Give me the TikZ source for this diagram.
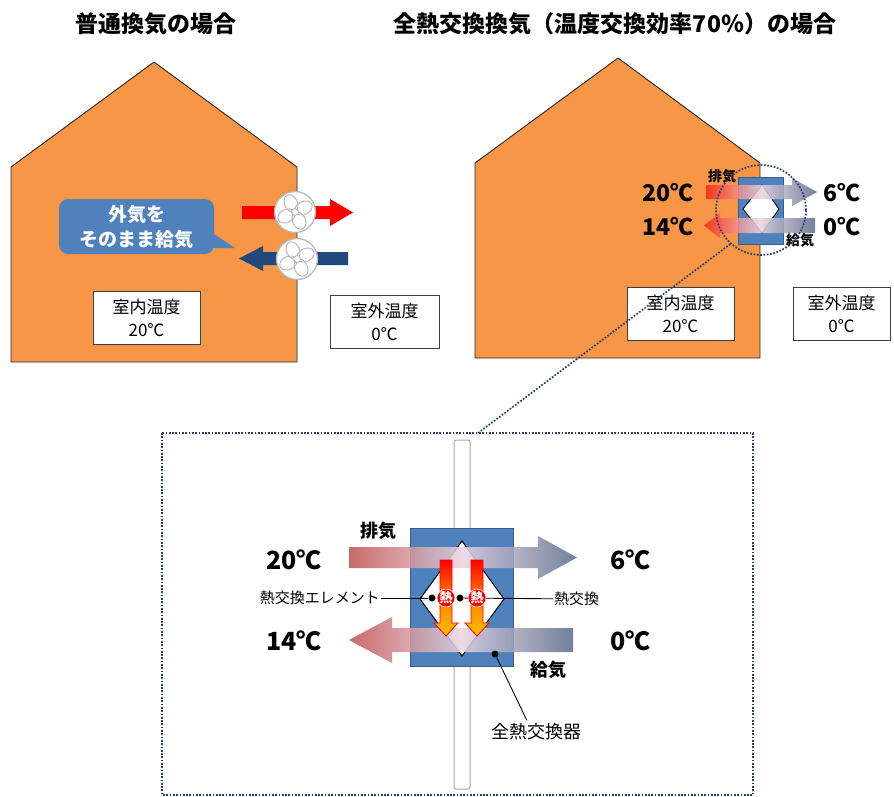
\documentclass[tikz,border=0pt]{standalone}
\usepackage{fontspec}
\setmainfont{Noto Sans CJK JP}
\usetikzlibrary{positioning}
\definecolor{houseor}{RGB}{247,150,70}
\definecolor{accblue}{RGB}{79,129,189}
\definecolor{edgeblue}{RGB}{56,93,138}
\definecolor{navy}{RGB}{31,73,125}
\definecolor{dotblue}{RGB}{44,62,105}
\definecolor{warm}{RGB}{192,80,77}
\definecolor{flame}{RGB}{250,40,20}
\definecolor{mist}{RGB}{232,214,226}
\definecolor{slate}{RGB}{88,106,136}
\definecolor{hot}{RGB}{255,0,0}
\definecolor{amber}{RGB}{255,192,0}
\begin{document}
\begin{tikzpicture}[x=1pt, y=-1pt,
    house/.style={draw=black!85, fill=houseor, line width=0.9pt},
    tbox/.style={draw=black!75, fill=white, line width=0.9pt, align=center, minimum height=53pt,
        font=\fontsize{17}{23}\selectfont},
    title/.style={font=\bfseries\fontsize{23}{26}\selectfont},
    temp/.style={font=\bfseries\fontsize{25}{28}\selectfont},
    stemp/.style={font=\bfseries\fontsize{23}{26}\selectfont},
    tag/.style={font=\bfseries\fontsize{18}{20}\selectfont},
    stag/.style={font=\bfseries\fontsize{14}{16}\selectfont, inner sep=0pt},
    note/.style={font=\fontsize{15}{18}\selectfont, inner sep=1pt},
    zoomline/.style={draw=dotblue, line width=1.7pt, dash pattern=on 1.7pt off 1.6pt},
    flow/.style={fill opacity=0.85, left color=warm, right color=slate, middle color=mist},
    heat/.style={draw=hot, line width=0.8pt, top color=hot, bottom color=amber, middle color=orange},
    dot/.style={circle, fill=black, inner sep=0pt, minimum size=7pt},
    fan/.pic={
        \draw[gray!55, fill=white, line width=1.3pt] (0,0) circle (20.5);
        \foreach \a in {25,115,205,295}
            \draw[gray!55, line width=1pt, rotate=\a] (9.5,0) ellipse (9 and 6.5);
        \draw[gray!55, fill=white, line width=1pt] (0,0) circle (3.5);
    }]
\useasboundingbox (0,0) rectangle (894,797);

% titles
\node[title] (t1) at (156,24) {普通換気の場合};
\node[title] (t2) at (615,24) {全熱交換換気（温度交換効率70％）の場合};

% left house with fans
\draw[house] (11,362) -- (11,167) -- (154,62) -- (297,167) -- (297,362) -- cycle;
\fill[hot] (242,206) -- (330,206) -- (330,199) -- (353,212.5) -- (330,226) -- (330,219) -- (242,219) -- cycle;
\fill[navy] (348,252) -- (263,252) -- (263,246) -- (239,258.5) -- (263,271) -- (263,265) -- (348,265) -- cycle;
\pic (f1) at (295,212) {fan};
\pic (f2) at (297,259) {fan};
\fill[accblue] (205,228) -- (235,248) -- (205,248) -- cycle;
\node[fill=accblue, rounded corners=9pt, minimum width=155pt, minimum height=55pt, align=center,
    text=white, font=\bfseries\fontsize{19}{25}\selectfont] (c1) at (136.5,226.5) {外気を\\そのまま給気};
\node[tbox, minimum width=107pt] (b1) at (146.5,317.5) {室内温度\\20℃};
\node[tbox, minimum width=109pt] (b2) at (384.5,321.5) {室外温度\\0℃};

% right house with exchanger
\draw[house] (475,358) -- (475,163) -- (618,58) -- (760,163) -- (760,358) -- cycle;
\node[tbox, minimum width=107pt] (b3) at (680.5,313.5) {室内温度\\20℃};
\node[tbox, minimum width=97pt] (b4) at (841.5,314) {室外温度\\0℃};
\draw[edgeblue, fill=accblue, line width=0.8pt] (738,177) rectangle (783,244);
\draw[black, fill=white, line width=0.8pt] (762,185) -- (779,209) -- (762,233) -- (743,209) -- cycle;
\shade[flow, left color=flame, middle color=mist] (706,185) -- (792,185) -- (792,178) -- (817,192) -- (792,206) -- (792,199) -- (706,199) -- cycle;
\shade[flow, left color=flame, middle color=mist] (815,218) -- (720,218) -- (720,213) -- (704,225.5) -- (720,238) -- (720,233) -- (815,233) -- cycle;
\node[stemp, anchor=east] (s1) at (697,193) {20℃};
\node[stemp, anchor=east] (s2) at (697,227) {14℃};
\node[stemp, anchor=west] (s3) at (820,193) {6℃};
\node[stemp, anchor=west] (s4) at (820,227) {0℃};
\node[stag] (s5) at (722,176) {排気};
\node[stag] (s6) at (800,240) {給気};
\node[circle, zoomline, minimum size=90pt, inner sep=0pt] (zc) at (761,210) {};

% close-up of the exchanger
\coordinate (zt) at (478,433);
\draw[zoomline] (zc.228) -- (zt);
\draw[zoomline] (162,433) rectangle (753,795);
\draw[gray!70, fill=white, line width=1pt, rounded corners=2pt] (454,440) rectangle (470,789);
\draw[edgeblue, fill=accblue, line width=0.8pt] (410,528) rectangle (513,666);
\draw[black, fill=white, line width=1pt] (462,541) -- (504,599) -- (462,656) -- (420,599) -- cycle;
\node[note, anchor=east] (e1) at (381,598) {熱交換エレメント};
\node[note, anchor=west] (e2) at (553,599) {熱交換};
\node[dot] (d1) at (432,598) {};
\node[dot] (d2) at (460,598) {};
\draw[black, line width=0.9pt] (e1) -- (d1);
\draw[black, line width=0.9pt] (e2) -- (d2);
\shade[flow] (349,547) -- (538,547) -- (538,536) -- (577,557.5) -- (538,579) -- (538,568) -- (349,568) -- cycle;
\shade[flow] (573,628) -- (392,628) -- (392,617) -- (349,640) -- (392,663) -- (392,652) -- (573,652) -- cycle;
\foreach \x in {446,477}
    \shade[heat] (\x-6,560) -- (\x+6,560) -- (\x+6,623) -- (\x+12,623) -- (\x,636) -- (\x-12,623) -- (\x-6,623) -- cycle;
\foreach \x/\n in {446/h1,477/h2}
    \node[circle, fill=hot, draw=white, line width=0.6pt, inner sep=0pt, minimum size=18pt, text=white,
        font=\bfseries\fontsize{13}{13}\selectfont] (\n) at (\x,598) {熱};
\node[temp, anchor=east] (z1) at (325,560) {20℃};
\node[temp, anchor=east] (z2) at (325,641) {14℃};
\node[temp, anchor=west] (z3) at (607,560) {6℃};
\node[temp, anchor=west] (z4) at (607,641) {0℃};
\node[tag] (z5) at (378,531) {排気};
\node[tag] (z6) at (548,670) {給気};
\node[dot] (d3) at (495,654) {};
\node[font=\fontsize{18}{20}\selectfont] (z7) at (536,732) {全熱交換器};
\draw[black, line width=0.9pt] (d3) -- (z7.128);
\end{tikzpicture}
\end{document}
